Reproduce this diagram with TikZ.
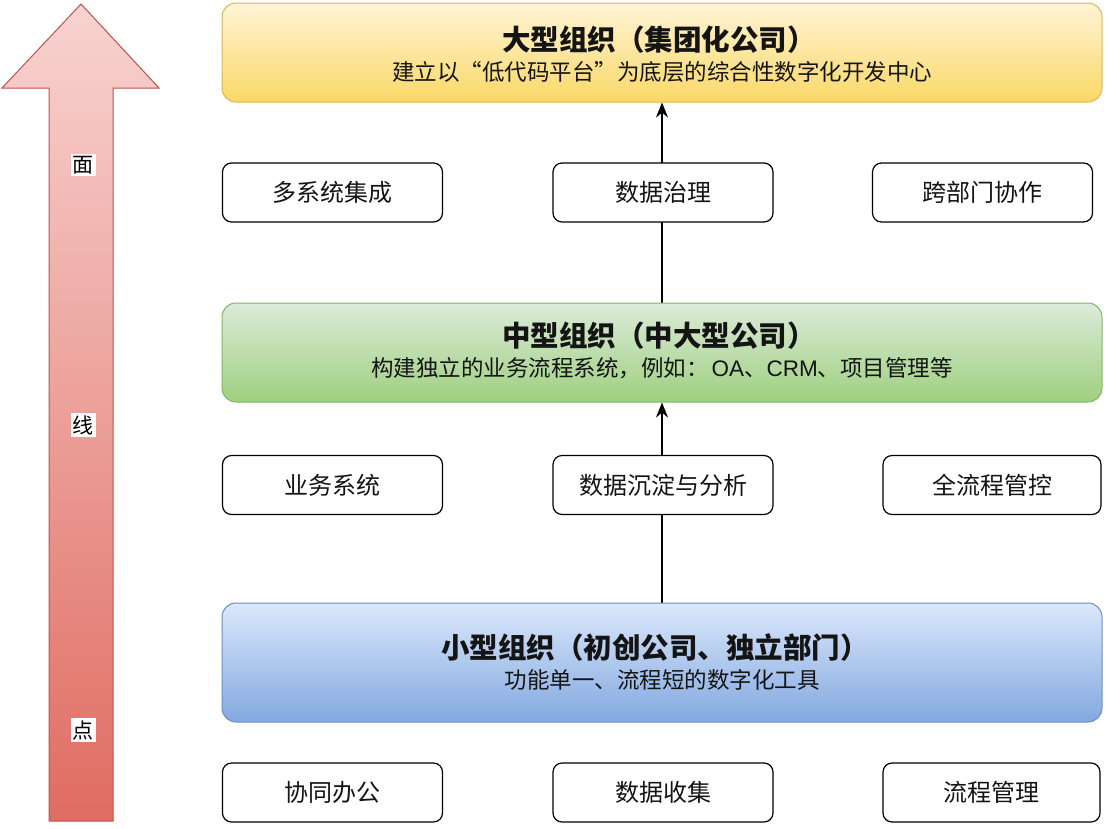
\documentclass[tikz,border=0pt]{standalone}
\usepackage{fontspec}
\setmainfont{Noto Sans CJK SC}
\newfontfamily\latinfont{Liberation Sans}
\usetikzlibrary{backgrounds,arrows.meta}
\definecolor{txt}{HTML}{141414}
\definecolor{yTop}{HTML}{FFF4D6}
\definecolor{yBot}{HTML}{FAD867}
\definecolor{yLine}{HTML}{D6B656}
\definecolor{gTop}{HTML}{DCEBDA}
\definecolor{gBot}{HTML}{9ED07E}
\definecolor{gLine}{HTML}{82B366}
\definecolor{bTop}{HTML}{DCE8FB}
\definecolor{bBot}{HTML}{82A8E0}
\definecolor{bLine}{HTML}{6C8EBF}
\definecolor{rTop}{HTML}{F8D3D1}
\definecolor{rBot}{HTML}{E06C62}
\definecolor{rLine}{HTML}{B85450}
\tikzset{
  bigbox/.style={rounded corners=14pt, minimum width=880pt, align=center, text=txt, line width=1pt, inner sep=0pt},
  smallbox/.style={draw=black, fill=white, rounded corners=9pt, line width=1.2pt, minimum width=220pt, minimum height=59pt, inner sep=0pt, text=txt, font=\fontsize{24}{28}\selectfont},
  sidelabel/.style={fill=white, inner sep=2pt, text=black, font=\fontsize{21}{24}\selectfont},
  flow/.style={draw=black, line width=1.4pt, -{Stealth[length=15pt,width=12pt]}},
}
\newcommand{\ttlfont}{\bfseries\fontsize{28.5}{33}\selectfont}
\newcommand{\subfont}{\mdseries\fontsize{22.5}{26}\selectfont}
\begin{document}
\begin{tikzpicture}[x=1pt,y=-1pt]
\useasboundingbox (0,0) rectangle (1108,828);
% big arrow
\shade[top color=rTop, bottom color=rBot, draw=rLine, line width=1pt, line join=miter]
  (81,4) -- (159,88) -- (113,88) -- (113,821) -- (49,821) -- (49,88) -- (2,88) -- cycle;
\node[sidelabel] (mian) at (83,165) {面};
\node[sidelabel] (xian) at (83,425) {线};
\node[sidelabel] (dian) at (83,730) {点};
% big boxes
\node[bigbox, draw=yLine, top color=yTop, bottom color=yBot, minimum height=99pt] (large) at (662,52.5) {};
\node[text=txt, font=\ttlfont] (largeT) at (659,40) {大型组织（集团化公司）};
\node[text=txt, font=\subfont] (largeS) at (662,72) {建立以“低代码平台”为底层的综合性数字化开发中心};
\node[bigbox, draw=gLine, top color=gTop, bottom color=gBot, minimum height=99pt] (mid) at (662,352.5) {};
\node[text=txt, font=\ttlfont] (midT) at (659,336) {中型组织（中大型公司）};
\node[text=txt, font=\subfont] (midS) at (662,368) {构建独立的业务流程系统，例如：\hspace{3pt}{\latinfont OA}、{\latinfont CRM}、项目管理等};
\node[bigbox, draw=bLine, top color=bTop, bottom color=bBot, minimum height=119pt] (small) at (662,662.5) {};
\node[text=txt, font=\ttlfont] (smallT) at (655,648) {小型组织（初创公司、独立部门）};
\node[text=txt, font=\subfont] (smallS) at (662,680) {功能单一、流程短的数字化工具};
% small boxes row 1
\node[smallbox] (s11) at (332.5,192.5) {多系统集成};
\node[smallbox] (s12) at (663,192.5) {数据治理};
\node[smallbox] (s13) at (982.5,192.5) {跨部门协作};
% row 2
\node[smallbox] (s21) at (332.5,485) {业务系统};
\node[smallbox] (s22) at (663,485) {数据沉淀与分析};
\node[smallbox, minimum width=218pt] (s23) at (992,485) {全流程管控};
% row 3
\node[smallbox] (s31) at (332.5,792.5) {协同办公};
\node[smallbox] (s32) at (663,792.5) {数据收集};
\node[smallbox, minimum width=217pt] (s33) at (991.5,792.5) {流程管理};
% connectors
\begin{scope}[on background layer]
\draw[flow] (small.north) -- (mid.south);
\draw[flow] (mid.north) -- (large.south);
\end{scope}
\end{tikzpicture}
\end{document}
